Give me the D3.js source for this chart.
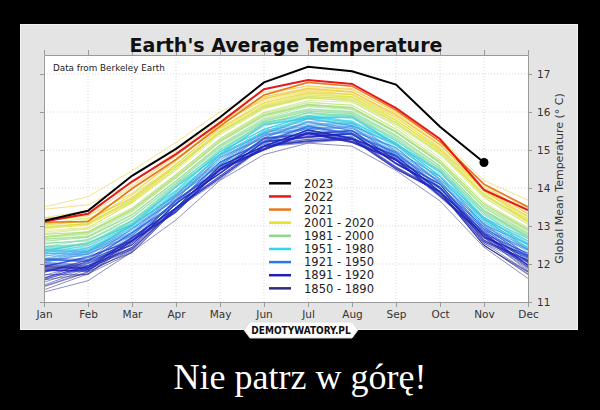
<!DOCTYPE html>
<html><head><meta charset="utf-8">
<script src="https://cdn.jsdelivr.net/npm/d3@7"></script>
<style>body{margin:0;background:#000;}svg{display:block;}</style>
</head><body><svg id="c" width="600" height="410"></svg>
<script>
const months = ["Jan","Feb","Mar","Apr","May","Jun","Jul","Aug","Sep","Oct","Nov","Dec"];
const yTicks = [11,12,13,14,15,16,17];
const legendLabels = ["2023","2022","2021","2001 - 2020","1981 - 2000","1951 - 1980","1921 - 1950","1891 - 1920","1850 - 1890"];
const legendColors = ["#000000","#e41a1c","#e8781e","#e2e22e","#8fd68f","#2ed8ee","#2a7ae2","#2020b4","#2a2d7a"];

const t1850_1890 = [
[1850,11.52,11.90,12.38,13.48,14.32,15.10,15.28,15.30,14.55,13.92,12.55,11.80],
[1852,11.95,11.85,12.70,13.48,14.60,15.10,15.52,15.30,14.86,13.90,12.84,12.12],
[1854,11.82,12.10,12.58,13.66,14.48,15.30,15.42,15.50,14.72,14.10,12.72,12.20],
[1856,11.58,11.74,12.60,13.36,14.46,15.00,15.44,15.20,14.74,13.80,12.70,11.86],
[1858,11.88,11.86,12.44,13.60,14.40,15.20,15.34,15.44,14.64,13.98,12.60,12.10],
[1860,11.45,11.86,12.30,13.46,14.28,15.10,15.24,15.30,14.52,13.88,12.48,11.78],
[1862,11.26,11.56,12.32,13.16,14.20,14.88,15.18,15.10,14.46,13.66,12.44,11.62],
[1864,11.40,11.78,12.38,13.48,14.26,15.10,15.24,15.28,14.50,13.90,12.50,11.72],
[1866,11.96,11.90,12.68,13.48,14.58,15.10,15.54,15.30,14.84,13.90,12.82,11.98],
[1868,11.62,12.08,12.50,13.60,14.38,15.22,15.34,15.42,14.64,14.02,12.62,12.08],
[1870,11.84,11.80,12.61,13.40,14.51,15.02,15.46,15.22,14.76,13.82,12.74,11.89],
[1872,11.70,12.01,12.49,13.59,14.39,15.23,15.34,15.43,14.65,14.03,12.64,12.10],
[1874,11.82,11.82,12.63,13.42,14.52,15.04,15.47,15.24,14.78,13.84,12.77,11.91],
[1876,11.32,11.74,12.30,13.44,14.22,15.08,15.19,15.28,14.49,13.88,12.48,11.80],
[1878,12.15,12.12,12.93,13.70,14.80,15.32,15.74,15.50,15.06,14.12,13.06,12.22],
[1880,11.78,12.10,12.56,13.68,14.47,15.30,15.42,15.50,14.72,14.10,12.70,12.18],
[1882,11.90,11.90,12.68,13.47,14.58,15.10,15.53,15.30,14.83,13.90,12.82,11.96],
[1884,11.42,11.80,12.34,13.46,14.27,15.10,15.22,15.29,14.50,13.90,12.50,11.74],
[1886,11.72,11.72,12.56,13.37,14.48,15.00,15.43,15.20,14.73,13.80,12.70,11.82],
[1888,11.58,11.94,12.44,13.58,14.37,15.20,15.32,15.41,14.62,14.02,12.62,12.08]
];
const t1891_1920 = [
[1891,11.93,11.90,12.66,13.42,14.54,15.04,15.48,15.27,14.78,13.82,12.80,11.97],
[1893,11.62,11.96,12.42,13.50,14.32,15.16,15.28,15.36,14.56,13.92,12.58,12.06],
[1895,11.98,11.92,12.70,13.44,14.58,15.10,15.52,15.30,14.83,13.88,12.88,12.04],
[1897,11.94,12.18,12.62,13.70,14.48,15.32,15.42,15.52,14.74,14.10,12.78,12.28],
[1899,12.03,11.96,12.72,13.47,14.58,15.09,15.53,15.32,14.86,13.90,12.92,12.08],
[1901,11.92,12.20,12.60,13.66,14.44,15.28,15.38,15.46,14.66,14.02,12.70,12.22],
[1903,11.90,11.88,12.63,13.38,14.50,15.02,15.46,15.22,14.74,13.78,12.78,11.96],
[1905,11.80,12.03,12.52,13.60,14.40,15.23,15.36,15.44,14.66,14.03,12.72,12.23],
[1907,11.84,11.82,12.60,13.36,14.48,15.00,15.43,15.19,14.72,13.76,12.76,11.92],
[1909,11.64,11.94,12.40,13.48,14.30,15.14,15.24,15.33,14.54,13.90,12.58,12.04],
[1911,11.86,11.84,12.62,13.38,14.50,15.02,15.45,15.22,14.76,13.80,12.80,11.94],
[1913,11.78,12.06,12.50,13.58,14.38,15.22,15.34,15.43,14.64,14.00,12.68,12.16],
[1915,12.13,12.06,12.82,13.56,14.68,15.20,15.63,15.40,14.94,13.98,12.98,12.17],
[1917,11.60,11.90,12.38,13.46,14.26,15.10,15.22,15.30,14.52,13.88,12.54,12.00],
[1919,12.00,11.94,12.70,13.45,14.56,15.08,15.51,15.28,14.82,13.86,12.86,12.04]
];
const t1921_1950 = [
[1921,12.11,12.08,12.82,13.60,14.68,15.22,15.61,15.42,14.92,14.00,12.96,12.19],
[1923,11.94,12.16,12.66,13.68,14.52,15.32,15.46,15.52,14.78,14.10,12.82,12.28],
[1925,12.12,12.10,12.84,13.62,14.68,15.24,15.64,15.44,14.96,14.04,13.02,12.24],
[1927,12.04,12.26,12.74,13.76,14.60,15.38,15.54,15.58,14.84,14.16,12.88,12.36],
[1929,12.04,12.00,12.76,13.56,14.62,15.18,15.58,15.39,14.88,13.96,12.92,12.14],
[1931,12.08,12.32,12.80,13.80,14.64,15.42,15.58,15.62,14.88,14.20,12.92,12.40],
[1933,12.10,12.06,12.80,13.60,14.66,15.22,15.62,15.42,14.92,14.02,12.98,12.20],
[1935,12.06,12.28,12.76,13.78,14.60,15.40,15.56,15.61,14.86,14.18,12.92,12.38],
[1937,12.28,12.24,12.96,13.74,14.82,15.36,15.76,15.56,15.06,14.14,13.12,12.36],
[1939,12.14,12.38,12.84,13.86,14.68,15.48,15.64,15.70,14.96,14.30,13.04,12.54],
[1941,12.36,12.34,13.04,13.82,14.88,15.44,15.84,15.64,15.14,14.22,13.18,12.44],
[1943,12.20,12.42,12.88,13.90,14.72,15.52,15.68,15.72,14.98,14.30,13.02,12.52],
[1945,12.34,12.32,13.02,13.80,14.86,15.42,15.82,15.64,15.16,14.24,13.20,12.38],
[1947,12.12,12.34,12.82,13.84,14.66,15.46,15.62,15.66,14.92,14.24,12.98,12.44],
[1949,12.22,12.20,12.92,13.70,14.76,15.32,15.72,15.52,15.02,14.10,13.08,12.30]
];
const t1951_1980 = [
[1951,12.29,12.30,13.01,13.84,14.89,15.48,15.87,15.72,15.19,14.30,13.23,12.50],
[1953,12.35,12.55,13.03,14.03,14.89,15.67,15.85,15.87,15.13,14.43,13.17,12.61],
[1955,12.27,12.28,12.99,13.80,14.85,15.44,15.81,15.64,15.11,14.22,13.15,12.40],
[1957,12.29,12.49,12.99,14.01,14.87,15.65,15.83,15.87,15.15,14.45,13.21,12.67],
[1959,12.47,12.48,13.15,13.94,14.97,15.54,15.91,15.74,15.19,14.30,13.23,12.50],
[1961,12.33,12.55,13.03,14.03,14.89,15.67,15.83,15.85,15.11,14.41,13.15,12.59],
[1963,12.41,12.42,13.11,13.92,14.95,15.54,15.91,15.76,15.25,14.38,13.33,12.54],
[1965,12.25,12.43,12.93,13.93,14.79,15.57,15.75,15.77,15.05,14.35,13.09,12.55],
[1967,12.39,12.36,13.07,13.90,14.95,15.54,15.89,15.72,15.19,14.32,13.23,12.48],
[1969,12.35,12.55,13.05,14.05,14.91,15.69,15.87,15.89,15.17,14.47,13.23,12.67],
[1971,12.33,12.32,13.03,13.84,14.89,15.48,15.85,15.68,15.15,14.24,13.17,12.42],
[1973,12.45,12.65,13.13,14.11,14.95,15.73,15.89,15.91,15.17,14.47,13.19,12.61],
[1975,12.37,12.38,13.07,13.86,14.89,15.48,15.85,15.68,15.15,14.24,13.17,12.42],
[1977,12.37,12.57,13.07,14.09,14.95,15.73,15.91,15.95,15.23,14.53,13.29,12.71],
[1979,12.45,12.44,13.13,13.94,15.01,15.62,15.99,15.82,15.31,14.42,13.41,12.68]
];
const t1981_2000 = [
[1981,12.55,12.60,13.22,14.12,15.06,15.74,16.02,15.96,15.34,14.52,13.38,12.72],
[1982,12.42,12.52,13.12,14.04,15.00,15.68,15.96,15.88,15.26,14.46,13.34,12.74],
[1983,12.66,12.72,13.30,14.18,15.12,15.80,16.08,16.02,15.40,14.58,13.42,12.72],
[1984,12.46,12.54,13.16,14.06,15.02,15.70,15.98,15.90,15.26,14.44,13.28,12.62],
[1985,12.44,12.52,13.14,14.06,15.02,15.70,15.98,15.92,15.30,14.50,13.34,12.68],
[1986,12.54,12.62,13.22,14.12,15.08,15.76,16.04,15.98,15.36,14.56,13.40,12.76],
[1987,12.60,12.70,13.28,14.18,15.14,15.84,16.14,16.06,15.46,14.66,13.52,12.88],
[1988,12.78,12.84,13.44,14.32,15.26,15.94,16.20,16.12,15.48,14.66,13.48,12.80],
[1989,12.52,12.64,13.24,14.14,15.10,15.78,16.06,16.00,15.38,14.58,13.42,12.80],
[1990,12.70,12.80,13.42,14.30,15.24,15.92,16.20,16.12,15.48,14.70,13.58,12.90],
[1991,12.72,12.82,13.40,14.28,15.22,15.90,16.18,16.10,15.46,14.64,13.48,12.82],
[1992,12.64,12.72,13.30,14.18,15.10,15.76,16.02,15.94,15.30,14.50,13.36,12.74],
[1993,12.60,12.70,13.30,14.20,15.14,15.82,16.08,16.00,15.38,14.58,13.40,12.78],
[1994,12.66,12.74,13.36,14.26,15.22,15.90,16.18,16.10,15.48,14.68,13.54,12.88],
[1995,12.80,12.92,13.48,14.36,15.30,15.98,16.26,16.18,15.54,14.74,13.58,12.90],
[1996,12.70,12.78,13.38,14.26,15.20,15.88,16.16,16.08,15.46,14.66,13.50,12.84],
[1997,12.72,12.84,13.44,14.34,15.30,16.00,16.30,16.26,15.66,14.88,13.74,13.04],
[1998,13.06,13.20,13.72,14.56,15.46,16.12,16.38,16.28,15.62,14.80,13.62,12.96],
[1999,12.78,12.84,13.42,14.30,15.24,15.92,16.20,16.12,15.50,14.70,13.58,12.92],
[2000,12.70,12.86,13.46,14.36,15.28,15.96,16.24,16.18,15.56,14.74,13.58,12.94]
];
const t2001_2020 = [
[2001,12.88,12.96,13.60,14.50,15.46,16.12,16.40,16.34,15.72,14.92,13.82,13.12],
[2002,13.02,13.14,13.82,14.56,15.50,16.16,16.42,16.34,15.72,14.90,13.76,13.04],
[2003,13.04,13.10,13.66,14.52,15.48,16.14,16.40,16.38,15.78,15.00,13.80,13.18],
[2004,12.96,13.08,13.70,14.56,15.42,16.10,16.36,16.32,15.70,14.96,13.86,13.10],
[2005,13.02,13.04,13.72,14.62,15.56,16.24,16.50,16.42,15.84,15.06,13.92,13.16],
[2006,12.92,13.04,13.62,14.50,15.46,16.16,16.44,16.40,15.78,15.02,13.88,13.26],
[2007,13.22,13.18,13.74,14.64,15.56,16.20,16.46,16.38,15.74,14.96,13.80,13.08],
[2008,12.84,12.94,13.62,14.46,15.40,16.08,16.38,16.30,15.68,14.92,13.80,13.10],
[2009,12.98,13.06,13.66,14.58,15.52,16.24,16.52,16.46,15.86,15.04,13.92,13.22],
[2010,13.14,13.26,13.86,14.76,15.68,16.32,16.56,16.46,15.80,15.00,13.94,13.12],
[2011,12.94,13.02,13.64,14.56,15.50,16.18,16.48,16.40,15.78,14.98,13.84,13.14],
[2012,12.96,13.06,13.68,14.62,15.58,16.28,16.54,16.48,15.90,15.08,13.96,13.18],
[2013,13.06,13.14,13.74,14.62,15.58,16.24,16.50,16.46,15.86,15.04,13.98,13.24],
[2014,13.08,13.12,13.76,14.70,15.68,16.36,16.58,16.52,15.94,15.14,13.96,13.32],
[2015,13.18,13.28,13.86,14.72,15.70,16.40,16.64,16.60,16.02,15.30,14.20,13.68],
[2016,13.50,13.77,14.45,15.20,16.00,16.52,16.67,16.62,15.98,15.16,14.04,13.36],
[2017,13.22,13.40,14.06,14.86,15.72,16.36,16.62,16.54,15.92,15.14,14.02,13.32],
[2018,13.06,13.12,13.82,14.76,15.66,16.34,16.60,16.52,15.90,15.14,13.96,13.26],
[2019,13.20,13.30,14.02,14.84,15.74,16.44,16.70,16.58,16.00,15.22,14.08,13.46],
[2020,13.44,13.56,14.12,14.96,15.80,16.40,16.62,16.54,15.94,15.12,14.10,13.30]
];
const t2021 = [13.10,13.12,13.98,14.75,15.62,16.45,16.78,16.68,16.05,15.22,14.10,13.50];
const t2022 = [13.12,13.32,14.17,14.89,15.72,16.60,16.84,16.74,16.10,15.29,13.95,13.42];
const t2023 = [13.14,13.40,14.32,15.03,15.86,16.78,17.19,17.07,16.72,15.61,14.67];

const yearStops = [1850,1890,1905,1935,1965,1990,2008,2020];
const yearStopColors = ["#34347c","#2222a6","#1212cc","#1e78e6","#26d2ec","#8edc8e","#e2e02a","#f0bc2a"];

const svg = d3.select("#c");
const FONT = "DejaVu Sans, sans-serif";
const L = 44, R = 528, T = 55, B = 302;

svg.append("rect").attr("width",600).attr("height",410).attr("fill","#000");
svg.append("rect").attr("x",20.5).attr("y",24.5).attr("width",557).attr("height",305)
  .attr("fill","#e4e4e4").attr("stroke","#f2f2f2").attr("stroke-width",1);

const x = d3.scalePoint().domain(months).range([L,R]);
const y = d3.scaleLinear().domain([11,17.5]).range([B,T]);
const color = d3.scaleLinear().domain(yearStops).range(yearStopColors).clamp(true);

svg.append("rect").attr("x",L).attr("y",T).attr("width",R-L).attr("height",B-T).attr("fill","#fff");

const grid = svg.append("g").attr("stroke","#cfcfcf").attr("stroke-width",0.8).attr("stroke-dasharray","1,2");
grid.selectAll("line.v").data(months.slice(1,-1)).join("line")
  .attr("x1",d=>x(d)).attr("x2",d=>x(d)).attr("y1",T).attr("y2",B);
grid.selectAll("line.h").data(yTicks.slice(1)).join("line")
  .attr("x1",L).attr("x2",R).attr("y1",d=>y(d)).attr("y2",d=>y(d));

svg.append("clipPath").attr("id","clip").append("rect")
  .attr("x",L).attr("y",T).attr("width",R-L).attr("height",B-T);

const line = d3.line().x((d,i)=>x(months[i])).y(d=>y(d));
const hist = [].concat(t1850_1890,t1891_1920,t1921_1950,t1951_1980,t1981_2000,t2001_2020);
const lg = svg.append("g").attr("clip-path","url(#clip)");
lg.selectAll("path.h").data(hist).join("path")
  .attr("d",r=>line(r.slice(1)))
  .attr("fill","none")
  .attr("stroke",r=>color(r[0]))
  .attr("stroke-width",0.9)
  .attr("stroke-opacity",0.6);
lg.append("path").attr("d",line(t2021)).attr("fill","none").attr("stroke","#e8781e").attr("stroke-width",1.6);
lg.append("path").attr("d",line(t2022)).attr("fill","none").attr("stroke","#e41a1c").attr("stroke-width",2);
lg.append("path").attr("d",line(t2023)).attr("fill","none").attr("stroke","#000").attr("stroke-width",2);
svg.append("circle").attr("cx",x(months[t2023.length-1])).attr("cy",y(t2023[t2023.length-1])).attr("r",4.5).attr("fill","#000");

function styleAxis(g){
  g.select(".domain").attr("stroke","#9a9a9a");
  g.selectAll(".tick line").attr("stroke","#9a9a9a");
  g.selectAll("text").attr("fill","#333").attr("font-family",FONT).attr("font-size",10.5);
}
svg.append("g").attr("transform",`translate(0,${B})`)
  .call(d3.axisBottom(x).tickSize(5).tickPadding(4).tickSizeOuter(0)).call(styleAxis);
svg.append("g").attr("transform",`translate(0,${T})`)
  .call(d3.axisTop(x).tickSize(5).tickFormat("").tickSizeOuter(0)).call(styleAxis);
svg.append("g").attr("transform",`translate(${L},0)`)
  .call(d3.axisLeft(y).tickValues(yTicks).tickSize(4).tickFormat("").tickSizeOuter(0)).call(styleAxis);
svg.append("g").attr("transform",`translate(${R},0)`)
  .call(d3.axisRight(y).tickValues(yTicks).tickFormat(d3.format("d")).tickSize(4).tickPadding(5).tickSizeOuter(0)).call(styleAxis);

svg.append("text").attr("x",286).attr("y",52).attr("text-anchor","middle")
  .attr("font-family",FONT).attr("font-weight","bold").attr("font-size",19).attr("fill","#111")
  .text("Earth's Average Temperature");
svg.append("text").attr("x",53).attr("y",71)
  .attr("font-family",FONT).attr("font-size",8.8).attr("fill","#222")
  .text("Data from Berkeley Earth");
svg.append("text").attr("transform",`translate(563,${(T+B)/2}) rotate(-90)`).attr("text-anchor","middle")
  .attr("font-family",FONT).attr("font-size",11).attr("fill","#333")
  .text("Global Mean Temperature (° C)");

const leg = svg.append("g");
legendLabels.forEach((lab,i)=>{
  const yy = 183.3 + i*13.13;
  leg.append("line").attr("x1",269).attr("x2",291).attr("y1",yy).attr("y2",yy)
    .attr("stroke",legendColors[i]).attr("stroke-width",2.5);
  leg.append("text").attr("x",304).attr("y",yy+4.2)
    .attr("font-family",FONT).attr("font-size",11.5).attr("fill","#222").text(lab);
});

svg.append("path").attr("d","M244,330 L250,322 L352,322 L358,330 L352,338 L250,338 Z")
  .attr("fill","#fff").attr("stroke","#ddd");
svg.append("text").attr("x",301).attr("y",334).attr("text-anchor","middle")
  .attr("font-family","DejaVu Sans Condensed, DejaVu Sans, sans-serif").attr("font-stretch","condensed")
  .attr("font-weight","bold").attr("font-size",10).attr("fill","#111").text("DEMOTYWATORY.PL");

svg.append("text").attr("x",300).attr("y",389).attr("text-anchor","middle")
  .attr("font-family","Liberation Serif, Times New Roman, serif").attr("font-size",36).attr("fill","#fff")
  .text("Nie patrz w górę!");
</script></body></html>
